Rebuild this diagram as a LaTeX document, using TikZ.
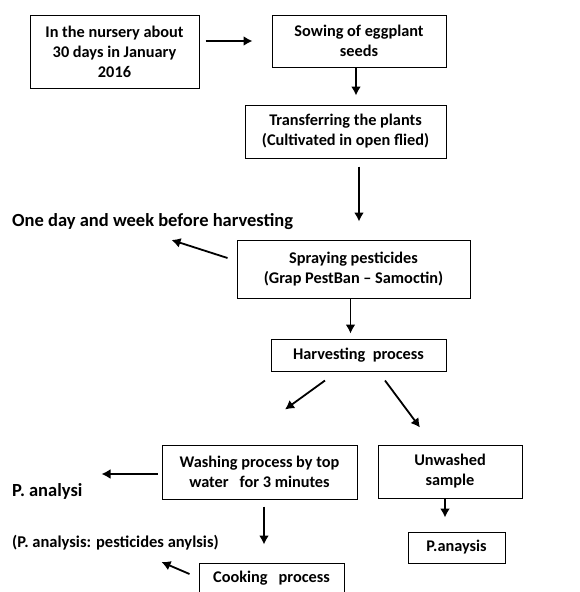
\documentclass[tikz,border=0pt]{standalone}
\usepackage{fontspec}
\setmainfont{Carlito}
\usetikzlibrary{arrows.meta,positioning,calc}
\tikzstyle{bS}=[rectangle,draw,line width=1pt,inner sep=0pt,align=center,font=\fontsize{16.3}{20}\selectfont\bfseries]
\tikzstyle{lS}=[inner sep=0pt,anchor=west,font=\fontsize{18.5}{22}\selectfont\bfseries]
\tikzstyle{sS}=[inner sep=0pt,anchor=west,font=\fontsize{16.5}{20}\selectfont\bfseries]
\tikzstyle{eArrow}=[line width=1.8pt,-{Latex[length=9pt,width=10pt]}]

\begin{document}
\begin{tikzpicture}[x=1pt,y=-1pt]
                \useasboundingbox (0,0) rectangle (579,592);
                \clip (0,0) rectangle (579,592);

                \draw (114.5,51.5) node[bS,minimum width=169pt,minimum height=73pt] (n0) {In the nursery about\\30 days in January\\2016};
                \draw (359,41) node[bS,minimum width=174pt,minimum height=52pt] (n1) {Sowing of eggplant\\seeds};
                \draw (345.5,131.5) node[bS,minimum width=201pt,minimum height=53pt] (n2) {Transferring the plants\\(Cultivated in open flied)};
                \draw (353.5,269) node[bS,minimum width=233pt,minimum height=58pt] (n3) {Spraying pesticides\\(Grap PestBan -- Samoctin)};
                \draw (358.5,355) node[bS,minimum width=175pt,minimum height=32pt] (n4) {Harvesting\ \ process};
                \draw (259.5,472) node[bS,minimum width=195pt,minimum height=54pt] (n5) {Washing process by top\\water\ \ \ for 3 minutes};
                \draw (450,471.5) node[bS,minimum width=144pt,minimum height=53pt] (n6) {Unwashed\\sample};
                \draw (271.5,578) node[bS,minimum width=145pt,minimum height=30pt] (n7) {Cooking\ \ \ process};
                \draw (456.5,547.5) node[bS,minimum width=97pt,minimum height=31pt] (n8) {P.anaysis};

                \draw (12,222) node[lS] (l0) {One day and week before harvesting};
                \draw (12,491) node[lS] (l1) {P. analysi};
                \draw (12,543) node[sS] (l2) {(P. analysis: pesticides anylsis)};

                \path
                    (n0.east |- n1.west) edge[eArrow,shorten <=6pt,shorten >=19pt] (n1.west)
                    ([xshift=-3pt]n1.south) edge[eArrow,shorten >=9pt] ([xshift=-3pt]n1.south |- n2.north)
                    (n1.south |- n2.south) edge[eArrow,shorten <=8pt,shorten >=18pt] (n1.south |- n3.north)
                    ($(n3.west)+(-9,-11)$) edge[eArrow] ($(n3.west)+(-65,-29)$)
                    ([xshift=-3pt]n3.south) edge[eArrow,shorten >=5pt] ([xshift=-3pt]n3.south |- n4.north)
                    ($(n4.south)+(-33.5,9)$) edge[eArrow] ($(n5.north)+(25.5,-35)$)
                    ($(n4.south)+(26.5,9)$) edge[eArrow] ($(n6.north)+(-30,-17)$)
                    ($(n5.west)+(-4,2)$) edge[eArrow] ($(n5.west)+(-60,2)$)
                    ($(n5.south)+(4.5,7)$) edge[eArrow] ($(n7.north)+(-7.5,-18)$)
                    ($(n7.west)+(-9,-4)$) edge[eArrow] ($(n7.west)+(-37,-16)$)
                    ([xshift=-5pt]n6.south) edge[eArrow,shorten >=14pt] ([xshift=-5pt]n6.south |- n8.north)
                ;

        \end{tikzpicture}
\end{document}
